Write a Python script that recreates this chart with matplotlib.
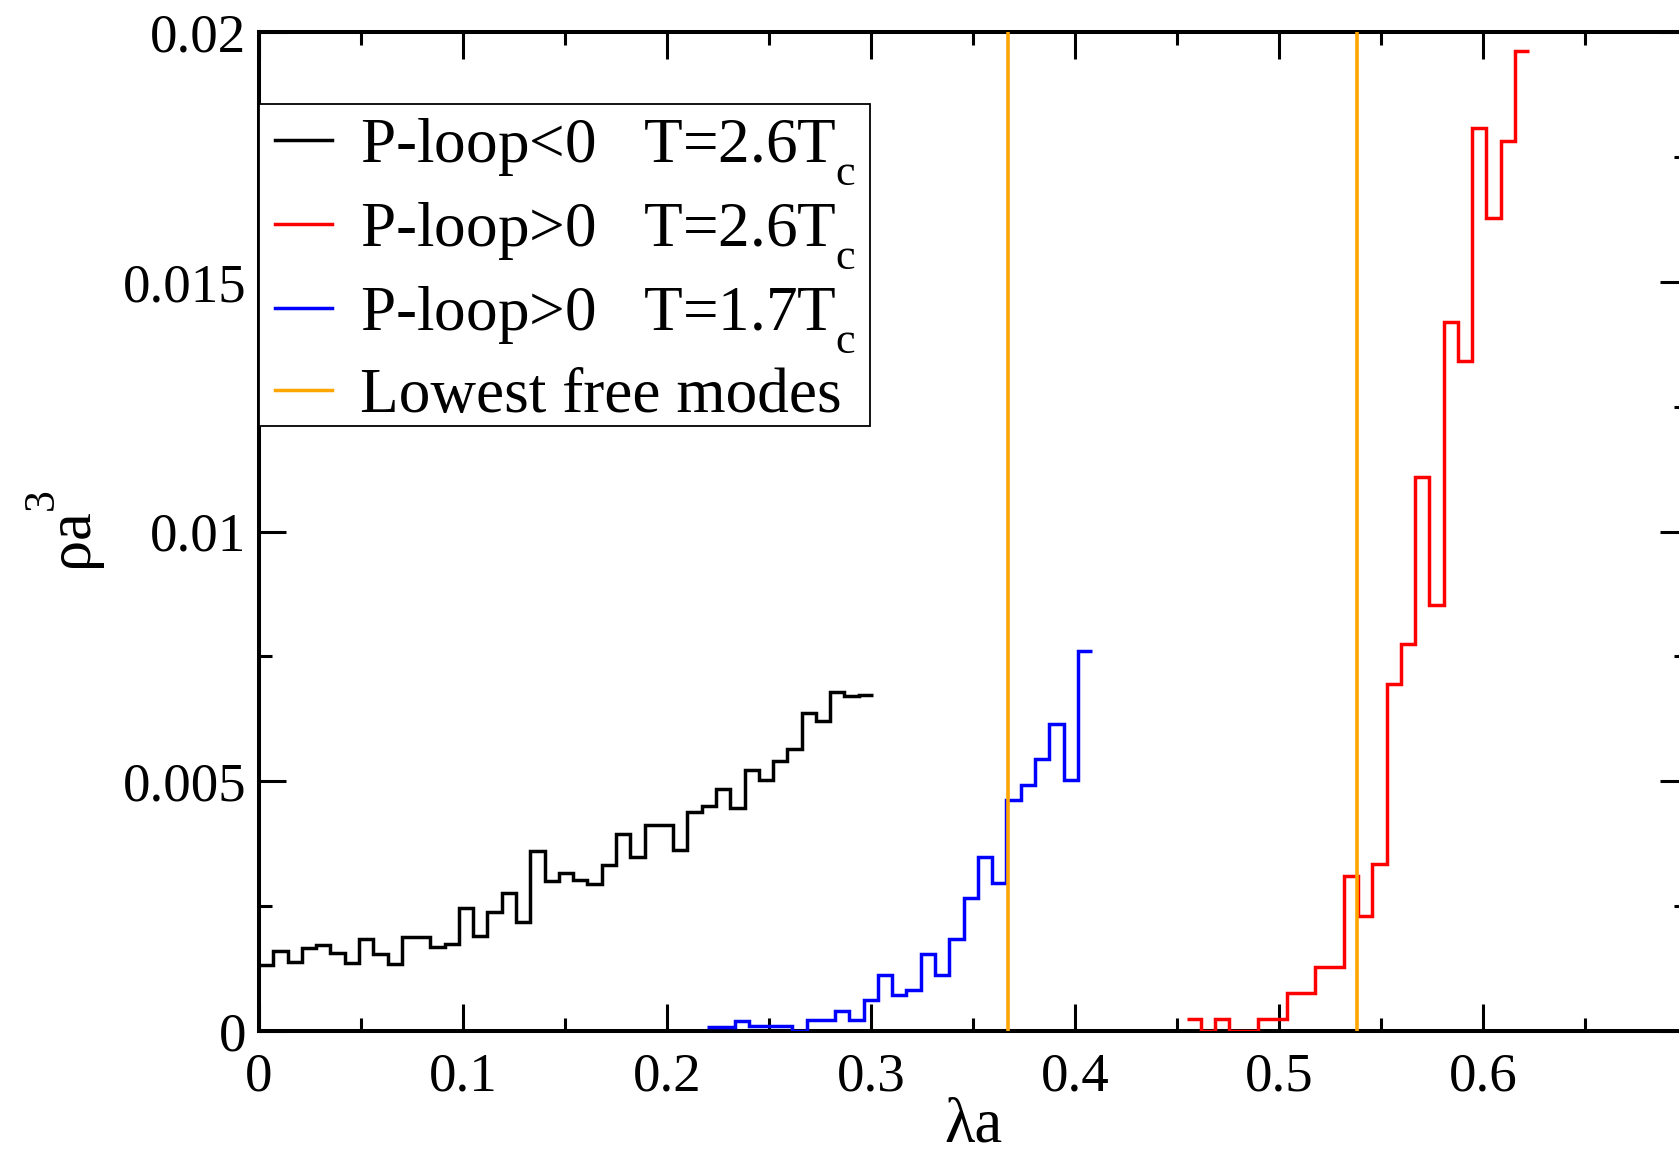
import numpy as np
import matplotlib
matplotlib.use("Agg")
import matplotlib.pyplot as plt
from matplotlib.patches import Rectangle
from matplotlib.ticker import MultipleLocator, FixedLocator, FixedFormatter
import matplotlib._mathtext as _mt

plt.rcParams['font.family'] = ['Liberation Serif', 'DejaVu Serif']
plt.rcParams['mathtext.fontset'] = 'custom'
plt.rcParams['mathtext.rm'] = 'Liberation Serif'
plt.rcParams['mathtext.it'] = 'Liberation Serif:italic'
# xmgrace-like sub/superscript placement
_mt.FontConstantsBase.sub1 = 0.8
_mt.FontConstantsBase.sup1 = 1.25

# ---------------- data ----------------
bin_width = 0.007

# P-loop<0, T=2.6Tc  (black)
black_start = 0.0
black_values = [0.00133, 0.00160, 0.00139, 0.00166, 0.00173, 0.00157, 0.00137,
                0.00185, 0.00155, 0.00135, 0.00188, 0.00188, 0.00168, 0.00175,
                0.00246, 0.00190, 0.00238, 0.00277, 0.00218, 0.00360, 0.00301,
                0.00317, 0.00303, 0.00295, 0.00333, 0.00395, 0.00348, 0.00413,
                0.00413, 0.00363, 0.00438, 0.00450, 0.00485, 0.00446, 0.00523,
                0.00503, 0.00541, 0.00565, 0.00637, 0.00621, 0.00679, 0.00671,
                0.00673]

# P-loop>0, T=1.7Tc  (blue)
blue_start = 0.2194
blue_values = [0.00009, 0.00009, 0.00020, 0.00010, 0.00010, 0.00010, 0.0,
               0.00022, 0.00022, 0.00041, 0.00022, 0.00062, 0.00113, 0.00072,
               0.00083, 0.00155, 0.00113, 0.00185, 0.00267, 0.00349, 0.00297,
               0.00462, 0.00493, 0.00545, 0.00615, 0.00503, 0.00761]

# P-loop>0, T=2.6Tc  (red)
red_start = 0.4547
red_values = [0.00024, 0.0, 0.00024, 0.0, 0.0, 0.00024, 0.00024, 0.00077,
              0.00077, 0.00129, 0.00129, 0.00311, 0.00231, 0.00335, 0.00695,
              0.00775, 0.01109, 0.00852, 0.01420, 0.01342, 0.01807, 0.01627,
              0.01782, 0.01962]

# Lowest free modes (orange vertical lines)
free_modes = [0.367, 0.538]

legend_labels = [r"P-loop<0   T=2.6T$_{\mathrm{c}}$",
                 r"P-loop>0   T=2.6T$_{\mathrm{c}}$",
                 r"P-loop>0   T=1.7T$_{\mathrm{c}}$",
                 "Lowest free modes"]

x_ticks = [0.0, 0.1, 0.2, 0.3, 0.4, 0.5, 0.6]
x_ticklabels = ["0", "0.1", "0.2", "0.3", "0.4", "0.5", "0.6"]
y_ticks = [0.0, 0.005, 0.01, 0.015, 0.02]
y_ticklabels = ["0", "0.005", "0.01", "0.015", "0.02"]


def edges_for(start, values):
    return start + bin_width * np.arange(len(values) + 1)


# ---------------- figure ----------------
W, H = 1679, 1155
fig = plt.figure(figsize=(W / 100, H / 100), dpi=100)
x0, x1 = 259, 1687
y0, y1 = 1031, 32
ax = fig.add_axes([x0 / W, 1 - y0 / H, (x1 - x0) / W, (y0 - y1) / H])
axw, axh = x1 - x0, y0 - y1

lw = 2.5
ax.stairs(black_values, edges_for(black_start, black_values), baseline=None,
          color='black', lw=lw, label=legend_labels[0], zorder=3)
ax.stairs(red_values, edges_for(red_start, red_values), baseline=None,
          color='#ff0000', lw=lw, label=legend_labels[1], zorder=3)
ax.stairs(blue_values, edges_for(blue_start, blue_values), baseline=None,
          color='#0000ff', lw=lw, label=legend_labels[2], zorder=3)
for i, xm in enumerate(free_modes):
    ax.axvline(xm, color='#ffa500', lw=2.6, zorder=4,
               label=legend_labels[3] if i == 0 else None)

ax.set_xlim(0, 0.7)
ax.set_ylim(0, 0.02)

ax.xaxis.set_major_locator(FixedLocator(x_ticks))
ax.xaxis.set_major_formatter(FixedFormatter(x_ticklabels))
ax.xaxis.set_minor_locator(MultipleLocator(0.05))
ax.yaxis.set_major_locator(FixedLocator(y_ticks))
ax.yaxis.set_major_formatter(FixedFormatter(y_ticklabels))
ax.yaxis.set_minor_locator(MultipleLocator(0.0025))

ax.tick_params(which='both', direction='in', top=True, right=True,
               labelsize=39.5, width=2.2, color='black')
ax.tick_params(which='major', length=19.5)
ax.tick_params(which='minor', length=9.5)
ax.tick_params(axis='y', which='major', pad=9)
ax.tick_params(axis='x', which='major', pad=15)

for sp in ax.spines.values():
    sp.set_linewidth(2.9)
    sp.set_color('black')

ax.set_xlabel("λa", fontsize=45)
ax.xaxis.set_label_coords(0.5, -0.067)
ax.xaxis.label.set_va('top')
ax.set_ylabel(r"ρa$^{\mathrm{3}}$", fontsize=45)
ax.yaxis.set_label_coords(-0.106, 0.5)

# legend box (xmgrace style, tight frame)
box_l, box_r, box_t, box_b = 259, 870, 104, 426
ax.add_patch(Rectangle(((box_l - x0) / axw, (y0 - box_b) / axh),
                       (box_r - box_l) / axw, (box_b - box_t) / axh,
                       transform=ax.transAxes, facecolor='white',
                       edgecolor='black', lw=1.3, zorder=5, clip_on=False))

leg = ax.legend(loc='upper left', bbox_to_anchor=(0.0, (y0 - 101) / axh),
                fontsize=45.5, handlelength=0.9, handletextpad=0.45,
                borderpad=0.25, labelspacing=0.21, borderaxespad=0.0,
                frameon=False)
leg.set_zorder(6)
for h in leg.get_lines():
    h.set_linewidth(2.5)

fig.savefig("out.png", dpi=100)
